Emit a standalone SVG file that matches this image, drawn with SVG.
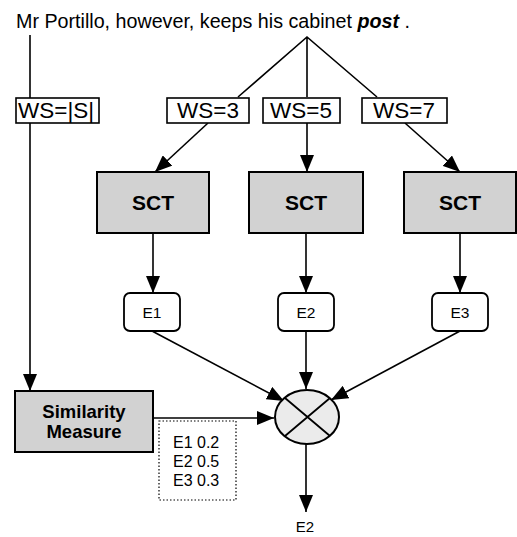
<svg xmlns="http://www.w3.org/2000/svg" width="517" height="537" viewBox="0 0 517 537">
  <style>
    text { font-family: "Liberation Sans", Arial, sans-serif; fill: #000; }
    .box { fill: #fff; stroke: #000; stroke-width: 1.6; }
    .shade { fill: #d2d2d2; stroke: #000; stroke-width: 2; }
    .ebox { fill: #fff; stroke: #000; stroke-width: 1.8; }
    .wire { fill: none; stroke: #000; stroke-width: 1.6; }
    .arrow { fill: none; stroke: #000; stroke-width: 1.6; marker-end: url(#head); }
    .ws { font-size: 22.5px; }
    .sct { font-size: 21px; font-weight: bold; text-anchor: middle; }
    .e { font-size: 15.5px; text-anchor: middle; }
    .w { font-size: 16px; }
  </style>
  <defs>
    <marker id="head" markerUnits="userSpaceOnUse" markerWidth="18" markerHeight="14" refX="17" refY="7" orient="auto">
      <path d="M0,0 L17,7 L0,14 z" fill="#000"/>
    </marker>
  </defs>

  <!-- input sentence -->
  <text id="sentence" x="16" y="28" font-size="19.7">Mr Portillo, however, keeps his cabinet <tspan font-weight="bold" font-style="italic">post</tspan> .</text>

  <g id="connectors">
    <line class="wire" x1="30" y1="35" x2="30" y2="98"/>
    <line class="arrow" x1="30" y1="123" x2="30" y2="391"/>
    <path class="wire" d="M238,97 L307,37 L377,97 M307,37 L307,97"/>
    <line class="arrow" x1="208" y1="123" x2="155" y2="172"/>
    <line class="arrow" x1="307" y1="123" x2="307" y2="172"/>
    <line class="arrow" x1="405" y1="123" x2="460" y2="172"/>
    <line class="arrow" x1="153" y1="233" x2="153" y2="293"/>
    <line class="arrow" x1="306" y1="233" x2="306" y2="293"/>
    <line class="arrow" x1="460" y1="233" x2="460" y2="293"/>
    <line class="arrow" x1="152" y1="331" x2="284" y2="401"/>
    <line class="arrow" x1="306" y1="331" x2="306" y2="389"/>
    <line class="arrow" x1="460" y1="331" x2="331" y2="400"/>
    <line class="arrow" x1="153" y1="418" x2="274" y2="418"/>
    <line class="arrow" x1="306" y1="444" x2="306" y2="512"/>
  </g>

  <g id="ws-s">
    <rect class="box" x="16" y="98" width="83" height="25"/>
    <text class="ws" x="18" y="118">WS=|S|</text>
  </g>
  <g id="ws-3">
    <rect class="box" x="167" y="98" width="82" height="25"/>
    <text class="ws" x="208" y="118" text-anchor="middle">WS=3</text>
  </g>
  <g id="ws-5">
    <rect class="box" x="263" y="98" width="77" height="25"/>
    <text class="ws" x="301" y="118" text-anchor="middle">WS=5</text>
  </g>
  <g id="ws-7">
    <rect class="box" x="362" y="98" width="85" height="25"/>
    <text class="ws" x="404" y="118" text-anchor="middle">WS=7</text>
  </g>

  <g id="sct-1">
    <rect class="shade" x="97" y="172" width="112" height="61"/>
    <text class="sct" x="153" y="210">SCT</text>
  </g>
  <g id="sct-2">
    <rect class="shade" x="249" y="172" width="114" height="61"/>
    <text class="sct" x="306" y="210">SCT</text>
  </g>
  <g id="sct-3">
    <rect class="shade" x="404" y="172" width="112" height="61"/>
    <text class="sct" x="460" y="210">SCT</text>
  </g>

  <g id="e1">
    <rect class="ebox" x="124" y="293" width="56" height="38" rx="6"/>
    <text class="e" x="152" y="318">E1</text>
  </g>
  <g id="e2">
    <rect class="ebox" x="278" y="293" width="56" height="38" rx="6"/>
    <text class="e" x="306" y="318">E2</text>
  </g>
  <g id="e3">
    <rect class="ebox" x="432" y="293" width="56" height="38" rx="6"/>
    <text class="e" x="460" y="318">E3</text>
  </g>

  <g id="similarity">
    <rect class="shade" x="15" y="391" width="138" height="61"/>
    <text x="84" y="418" font-size="18.5" font-weight="bold" text-anchor="middle">Similarity</text>
    <text x="84" y="438" font-size="18.5" font-weight="bold" text-anchor="middle">Measure</text>
  </g>

  <g id="weights">
    <rect x="159" y="421" width="77" height="79" fill="#fff" stroke="#000" stroke-width="1.2" stroke-dasharray="1.5 2"/>
    <text class="w" x="173" y="448">E1 0.2</text>
    <text class="w" x="173" y="467">E2 0.5</text>
    <text class="w" x="173" y="486">E3 0.3</text>
  </g>

  <g id="combiner">
    <ellipse cx="307" cy="417" rx="32" ry="27" fill="#ebebeb" stroke="#000" stroke-width="2"/>
    <path d="M285,398 L330,436 M285,436 L330,398" stroke="#000" stroke-width="1.8"/>
  </g>

  <g id="output">
    <text x="305" y="532" font-size="15" text-anchor="middle">E2</text>
  </g>
</svg>
